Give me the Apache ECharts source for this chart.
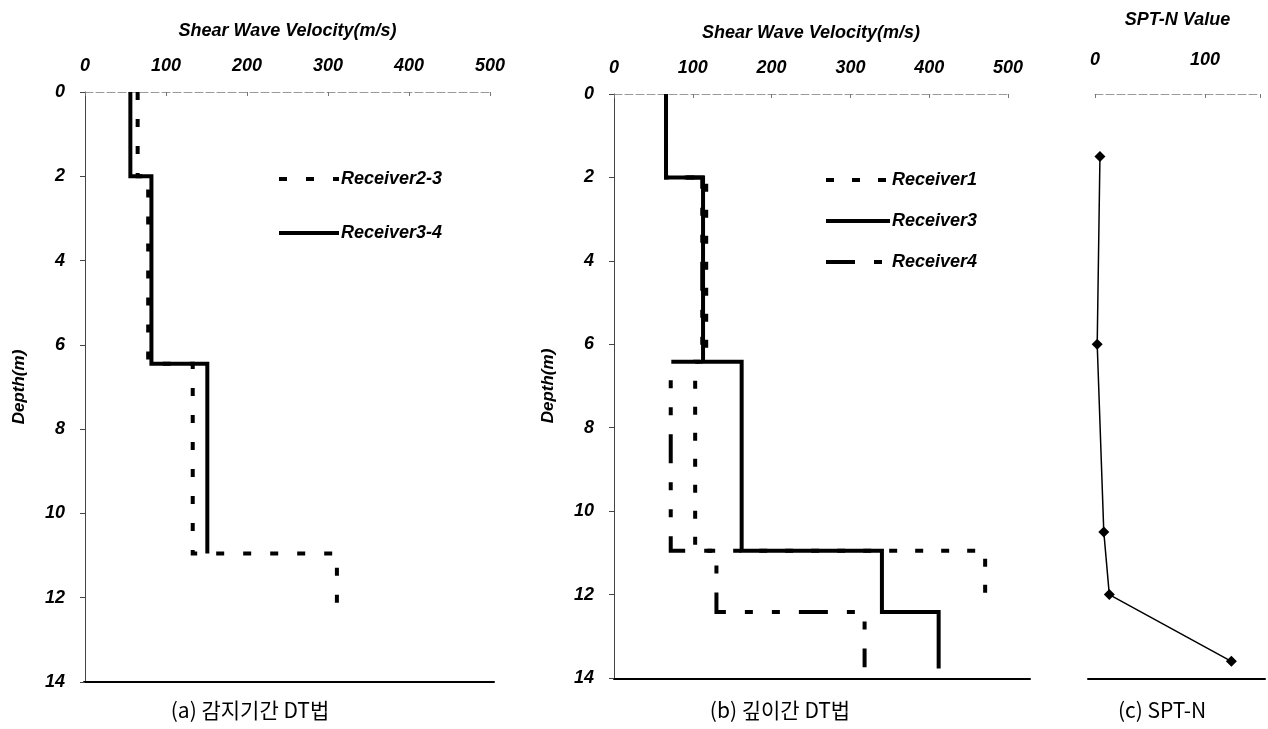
<!DOCTYPE html>
<html>
<head>
<meta charset="utf-8">
<script src="https://cdn.jsdelivr.net/npm/echarts@6/dist/echarts.min.js"></script>
<style>
html,body{margin:0;padding:0;background:#fff;}
#chart{width:1268px;height:729px;}
</style>
</head>
<body>
<div id="chart"></div>
<script>
// ---------- data ----------
// (a) layer boundaries (depth, m) and velocities (m/s)
const depthA_R23 = [0, 2, 6.45, 10.95, 12.32];
const velA_R23   = [65, 78, 133, 311];
const depthA_R34 = [0, 2, 6.45, 10.95];
const velA_R34   = [56, 82, 151];

// (b)
const depthB_R1 = [0, 2, 6.42, 10.95, 12.33];
const velB_R1   = [66, 117, 103, 471];
const depthB_R3 = [0, 2, 6.42, 10.95, 12.42, 13.77];
const velB_R3   = [66, 113, 162, 340, 412];
const depthB_R4 = [0, 2, 6.42, 10.95, 12.42, 13.74];
const velB_R4   = [66, 112, 72, 130, 318];

// (c) SPT-N
const sptDepth = [1.5, 6.0, 10.5, 12.0, 13.6];
const sptN     = [4.5, 2, 8, 13, 124];

const velTicks   = [0, 100, 200, 300, 400, 500];
const depthTicks = [0, 2, 4, 6, 8, 10, 12, 14];
const sptTicks   = [0, 100];

const captions = ['(a) 감지기간 DT법', '(b) 깊이간 DT법', '(c) SPT-N'];

// ---------- helpers ----------
function steps(bounds, vels) {
  const pts = [];
  for (let i = 0; i < vels.length; i++) {
    pts.push([vels[i], bounds[i]]);
    pts.push([vels[i], bounds[i + 1]]);
  }
  return pts;
}
const FONT = "'Liberation Sans', Arial, sans-serif";
const boldIt = (size) => ({ fontFamily: FONT, fontWeight: 'bold', fontStyle: 'italic', fontSize: size, color: '#000' });

function velAxis(gridIndex) {
  return {
    type: 'value', gridIndex, position: 'top',
    min: velTicks[0], max: velTicks[velTicks.length - 1], interval: velTicks[1] - velTicks[0],
    name: 'Shear Wave Velocity(m/s)', nameLocation: 'middle', nameGap: 52,
    nameTextStyle: boldIt(18),
    axisLine: { show: true, lineStyle: { color: '#9a9a9a', width: 1, type: [8, 3] } },
    axisTick: { show: true, inside: true, length: 4, lineStyle: { color: '#777' } },
    axisLabel: Object.assign({ margin: 17 }, boldIt(18)),
    splitLine: { show: false }
  };
}
function depthAxis(gridIndex) {
  return {
    type: 'value', gridIndex, inverse: true,
    min: depthTicks[0], max: depthTicks[depthTicks.length - 1], interval: depthTicks[1] - depthTicks[0],
    name: 'Depth(m)', nameLocation: 'middle', nameGap: 57,
    nameTextStyle: boldIt(17),
    axisLine: { show: true, onZero: false, lineStyle: { color: '#444', width: 1 } },
    axisTick: { show: true, length: 5, lineStyle: { color: '#444' } },
    axisLabel: Object.assign({ margin: 20 }, boldIt(18)),
    splitLine: { show: false }
  };
}
function baseLineAxis(gridIndex) {
  return {
    type: 'value', gridIndex, position: 'bottom', min: 0, max: 1,
    axisLine: { show: true, onZero: false, lineStyle: { color: '#000', width: 2 } },
    axisTick: { show: false }, axisLabel: { show: false }, splitLine: { show: false }
  };
}
function hiddenY(gridIndex) {
  return { type: 'value', gridIndex, show: false, min: 0, max: 1 };
}
function velSeries(name, xi, yi, bounds, vels, dash) {
  return {
    name, type: 'line', xAxisIndex: xi, yAxisIndex: yi,
    data: steps(bounds, vels), symbol: 'none', showSymbol: false,
    lineStyle: { color: '#000', width: 4, type: dash, cap: 'butt', join: 'miter' },
    itemStyle: { color: '#000' },
    animation: false, silent: true
  };
}

const DASH_SHORT = [8, 19];
const DASH_R1 = [8, 18];
const DASH_R4 = [29, 19, 8, 19, 8, 19];

const legendBase = {
  orient: 'vertical', itemHeight: 14, selectedMode: false,
  itemStyle: { opacity: 0, borderWidth: 0 },
  lineStyle: { width: 4, color: '#000' },
  textStyle: Object.assign({ padding: [0, 0, 0, -3] }, boldIt(18))
};

const option = {
  backgroundColor: '#fff',
  animation: false,
  grid: [
    { left: 85, top: 92, width: 405, height: 590 },     // 0: (a)
    { left: 614, top: 94, width: 394, height: 584 },    // 1: (b)
    { left: 1095, top: 94, width: 165, height: 584 },   // 2: (c)
    { left: 84, top: 681, width: 410, height: 1 },      // 3: (a) base line
    { left: 614, top: 678, width: 416, height: 1 },     // 4: (b) base line
    { left: 1088, top: 678, width: 177, height: 1 }     // 5: (c) base line
  ],
  xAxis: [
    velAxis(0),
    velAxis(1),
    {
      type: 'value', gridIndex: 2, position: 'top',
      min: 0, max: 150, interval: sptTicks[1] - sptTicks[0],
      name: 'SPT-N Value', nameLocation: 'middle', nameGap: 65,
      nameTextStyle: boldIt(18),
      axisLine: { show: true, lineStyle: { color: '#9a9a9a', width: 1, type: [8, 3] } },
      axisTick: { show: true, inside: true, length: 4, lineStyle: { color: '#777' } },
      axisLabel: Object.assign({ margin: 25, formatter: (v) => sptTicks.indexOf(v) >= 0 ? String(v) : '' }, boldIt(18)),
      splitLine: { show: false }
    },
    baseLineAxis(3), baseLineAxis(4), baseLineAxis(5)
  ],
  yAxis: [
    depthAxis(0),
    depthAxis(1),
    {
      type: 'value', gridIndex: 2, inverse: true, min: 0, max: 14, interval: 2,
      axisLine: { show: false }, axisTick: { show: false }, axisLabel: { show: false }, splitLine: { show: false }
    },
    hiddenY(3), hiddenY(4), hiddenY(5)
  ],
  legend: [
    Object.assign({}, legendBase, {
      data: ['Receiver2-3', 'Receiver3-4'],
      left: 272, top: 165, itemWidth: 60, itemGap: 36
    }),
    Object.assign({}, legendBase, {
      data: ['Receiver1', 'Receiver3', 'Receiver4'],
      left: 819, top: 166, itemWidth: 64, itemGap: 23
    })
  ],
  title: captions.map((t, i) => ({
    text: t, left: [250, 780, 1162][i], top: 700, textAlign: 'center', padding: 0,
    textStyle: { fontFamily: "'Noto Sans CJK KR', sans-serif", fontSize: 21, fontWeight: 'normal', color: '#000' }
  })),
  series: [
    velSeries('Receiver2-3', 0, 0, depthA_R23, velA_R23, DASH_SHORT),
    velSeries('Receiver3-4', 0, 0, depthA_R34, velA_R34, 'solid'),
    velSeries('Receiver1', 1, 1, depthB_R1, velB_R1, DASH_R1),
    velSeries('Receiver3', 1, 1, depthB_R3, velB_R3, 'solid'),
    velSeries('Receiver4', 1, 1, depthB_R4, velB_R4, DASH_R4),
    {
      name: 'SPT-N', type: 'line', xAxisIndex: 2, yAxisIndex: 2,
      data: sptN.map((n, i) => [n, sptDepth[i]]),
      symbol: 'diamond', symbolSize: 11,
      lineStyle: { color: '#000', width: 1.5 },
      itemStyle: { color: '#000' },
      animation: false, silent: true
    }
  ]
};

const chart = echarts.init(document.getElementById('chart'), null, { renderer: 'canvas' });
chart.setOption(option);
</script>
</body>
</html>
